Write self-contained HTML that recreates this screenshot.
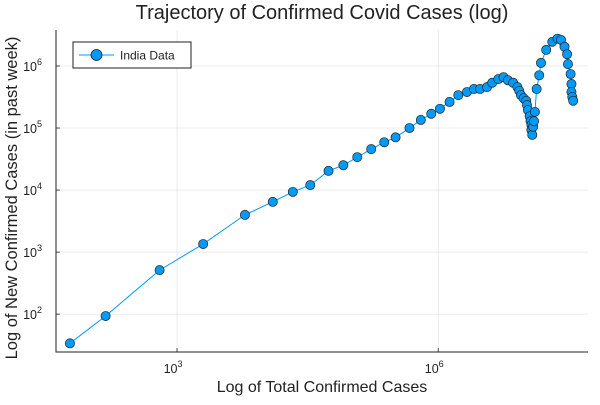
<!DOCTYPE html>
<html><head><meta charset="utf-8"><style>
body{margin:0;background:#fff;}
svg text{font-family:"Liberation Sans","DejaVu Sans",sans-serif;fill:#222;}
</style></head><body>
<svg id="chart" width="600" height="400" viewBox="0 0 600 400" xmlns="http://www.w3.org/2000/svg">
<rect width="600" height="400" fill="#fff"/>
<text x="322" y="19" font-size="20" text-anchor="middle">Trajectory of Confirmed Covid Cases (log)</text>
<g id="grid"></g>
<g id="axes"></g>
<g id="series"></g>
<text x="322" y="392" font-size="16" text-anchor="middle">Log of Total Confirmed Cases</text>
<text transform="translate(17,198) rotate(-90)" font-size="16.5" text-anchor="middle">Log of New Confirmed Cases (in past week)</text>
<g>
<rect x="73" y="42" width="118" height="26" fill="#fff" stroke="#222" stroke-width="1"/>
<line x1="79" y1="55" x2="114" y2="55" stroke="#009af9" stroke-width="1"/>
<circle cx="96.5" cy="55" r="5.5" fill="#009af9" stroke="#222" stroke-width="0.8"/>
<text x="120" y="59.5" font-size="12">India Data</text>
</g>
</svg>
<script>
// log10 of total confirmed cases
const logTotal = [1.77,2.18,2.80,3.30,3.78,4.10,4.33,4.53,4.74,4.91,5.07,5.23,5.38,5.51,5.67,5.80,5.92,6.02,6.13,6.23,6.33,6.41,6.48,6.56,6.62,6.69,6.75,6.80,6.86,6.91,6.93,6.95,6.98,7.01,7.02,7.03,7.05,7.06,7.07,7.07,7.08,7.09,7.10,7.11,7.13,7.16,7.18,7.24,7.31,7.37,7.41,7.45,7.48,7.49,7.52,7.53,7.53,7.54,7.55];
// log10 of new confirmed cases in past week
const logNew = [1.53,1.97,2.71,3.13,3.60,3.81,3.97,4.08,4.31,4.40,4.53,4.66,4.77,4.85,5.00,5.13,5.23,5.31,5.42,5.53,5.58,5.63,5.63,5.66,5.73,5.79,5.82,5.77,5.73,5.66,5.60,5.53,5.48,5.44,5.37,5.29,5.19,5.11,5.05,4.97,4.89,5.02,5.11,5.26,5.63,5.85,6.05,6.26,6.39,6.44,6.42,6.31,6.19,6.03,5.87,5.71,5.58,5.50,5.44];
const xTicks = [3,6];
const yTicks = [2,3,4,5,6];

const L=56,R=588,T=30,B=352;
const xDom=[1.61,7.72], yDom=[1.39,6.58];
const sx=v=>L+(v-xDom[0])/(xDom[1]-xDom[0])*(R-L);
const sy=v=>B-(v-yDom[0])/(yDom[1]-yDom[0])*(B-T);
const NS="http://www.w3.org/2000/svg";
function mk(tag,attrs,parent){const e=document.createElementNS(NS,tag);for(const k in attrs)e.setAttribute(k,attrs[k]);parent.appendChild(e);return e;}
const grid=document.getElementById('grid'),axes=document.getElementById('axes'),ser=document.getElementById('series');

xTicks.forEach(t=>{
  const x=sx(t);
  const g=mk('line',{x1:x,x2:x,y1:T,y2:B,stroke:'#000','stroke-opacity':0.1,'stroke-width':0.8},grid);
  
  
  mk('line',{x1:x,x2:x,y1:B,y2:B-4,stroke:'#222','stroke-width':0.8},axes);
  const tx=mk('text',{x:x-4,y:B+21,'font-size':12.5,'text-anchor':'middle'},axes);
  
  
  tx.textContent='10';
  const sp=mk('tspan',{dy:-6,'font-size':9},tx);sp.textContent=t;
});
yTicks.forEach(t=>{
  const y=sy(t);
  const g=mk('line',{x1:L,x2:R,y1:y,y2:y,stroke:'#000','stroke-opacity':0.1,'stroke-width':0.8},grid);
  
  
  mk('line',{x1:L,x2:L+4,y1:y,y2:y,stroke:'#222','stroke-width':0.8},axes);
  const tx=mk('text',{x:L-14,y:y+5,'font-size':12.5,'text-anchor':'end'},axes);
  
  
  tx.textContent='10';
  const sp=mk('tspan',{dy:-6,'font-size':9},tx);sp.textContent=t;
});
const ax=mk('path',{d:`M${L},${T} L${L},${B} L${R},${B}`,fill:'none',stroke:'#222','stroke-width':1},axes);



const pts=logTotal.map((v,i)=>[sx(v),sy(logNew[i])]);
const line=mk('polyline',{points:pts.map(p=>p.join(',')).join(' '),fill:'none',stroke:'#009af9','stroke-width':1},ser);


pts.forEach(p=>{
  const c=mk('circle',{cx:p[0],cy:p[1],r:4.6,fill:'#009af9',stroke:'#222','stroke-width':0.7},ser);
  
  
});
</script>
</body></html>
